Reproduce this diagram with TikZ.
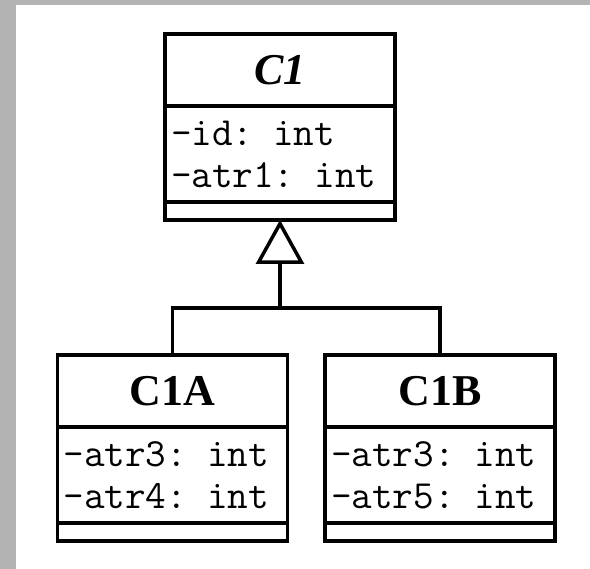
\documentclass[tikz,border=0pt]{standalone}
\usepackage{fontspec}
\setmainfont{Liberation Serif}
\usetikzlibrary{positioning,arrows.meta}

\definecolor{framegray}{HTML}{B3B3B3}

\tikzset{
  classname/.style={draw, line width=3.8pt, outer sep=0pt, inner sep=0pt,
    minimum width=230pt, minimum height=72pt,
    font=\fontsize{44}{48}\selectfont\bfseries},
  classattr/.style={draw, line width=3.8pt, outer sep=0pt, inner xsep=6pt, inner ysep=0pt,
    text width=218pt, minimum height=96pt, align=left,
    font=\fontsize{40}{42}\selectfont\ttfamily},
  classops/.style={draw, line width=3.8pt, outer sep=0pt, inner sep=0pt,
    minimum width=230pt, minimum height=18pt},
  inherit/.style={line width=3.5pt, -{Triangle[open, length=44pt, width=48pt]}}
}

\begin{document}
\begin{tikzpicture}[x=1pt, y=-1pt]

\useasboundingbox (0,0) rectangle (590,569);
\fill[framegray] (0,0) rectangle (590,5);
\fill[framegray] (0,0) rectangle (16,569);

% superclass
\node[classname] (c1) at (280,70) {\itshape C1};
\node[classattr, below=0pt of c1] (c1attr) {-id: int\\-atr1: int};
\node[classops, below=0pt of c1attr] (c1ops) {};

% subclasses
\node[classname] (c1a) at (172.5,391) {C1A};
\node[classattr, below=0pt of c1a] (c1aattr) {-atr3: int\\-atr4: int};
\node[classops, below=0pt of c1aattr] (c1aops) {};

\node[classname] (c1b) at (440,391) {C1B};
\node[classattr, below=0pt of c1b] (c1battr) {-atr3: int\\-atr5: int};
\node[classops, below=0pt of c1battr] (c1bops) {};

% generalisation
\coordinate (join) at (280,308);
\draw[line width=3.5pt] (c1a.north) |- (join) -| (c1b.north);
\draw[inherit] (join) -- (c1ops.south);
\end{tikzpicture}
\end{document}
